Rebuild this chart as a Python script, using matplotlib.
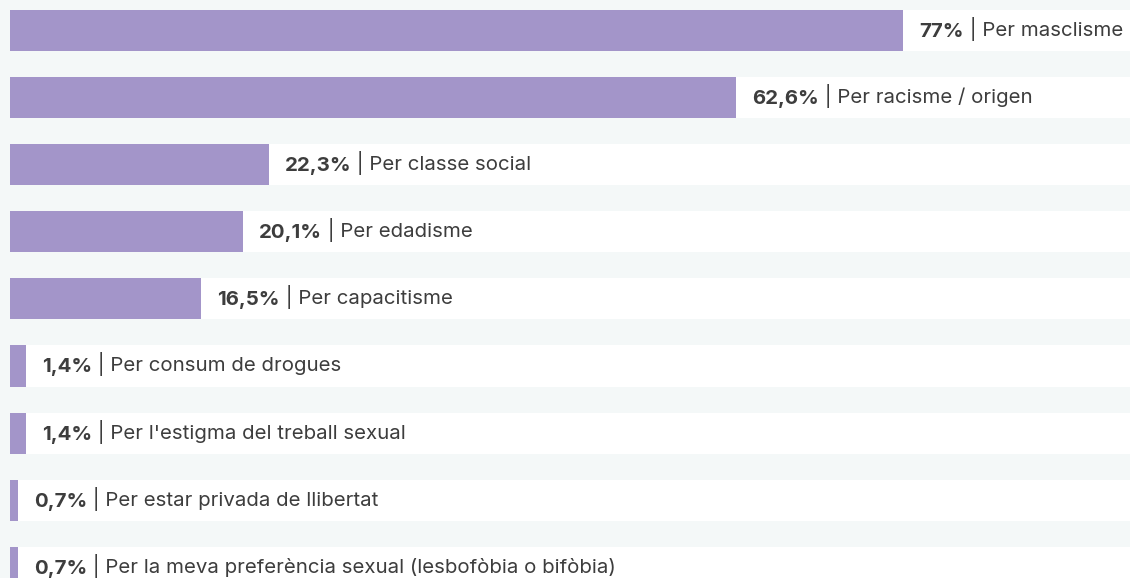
import matplotlib.pyplot as plt

# Dades
categories = [
    "Per masclisme",
    "Per racisme / origen",
    "Per classe social",
    "Per edadisme",
    "Per capacitisme",
    "Per consum de drogues",
    "Per l'estigma del treball sexual",
    "Per estar privada de llibertat",
    "Per la meva preferència sexual (lesbofòbia o bifòbia)",
]
values = [77, 62.6, 22.3, 20.1, 16.5, 1.4, 1.4, 0.7, 0.7]
value_labels = ["77%", "62,6%", "22,3%", "20,1%", "16,5%", "1,4%", "1,4%", "0,7%", "0,7%"]

bg_color = "#f4f8f8"
bar_color = "#a395c9"
text_color = "#3d3d3d"

W, H = 1130, 578
fig = plt.figure(figsize=(W / 100, H / 100), dpi=100, facecolor=bg_color)
# eixos des de x=10px fins a la vora dreta
ax = fig.add_axes([10 / W, 0, 1 - 10 / W, 1])
ax.set_facecolor(bg_color)

px_per_pct = 11.6
xmax = (W - 10) / px_per_pct
pitch = 67.1
first_center = 30.5
ax.set_xlim(0, xmax)
ax.set_ylim((H - first_center) / pitch, -first_center / pitch)
ax.axis("off")

y = list(range(len(values)))
bar_h = 41 / pitch

# franja blanca de fons i barra
ax.barh(y, [xmax] * len(values), height=bar_h, color="white", left=0)
ax.barh(y, values, height=bar_h, color=bar_color)

fs = 14.7
px = 0.72  # punts per píxel a 100 dpi
for i, (v, vl, cat) in enumerate(zip(values, value_labels, categories)):
    t = ax.annotate(vl, xy=(v, i), xytext=(16 * px, -6.5 * px), textcoords="offset points",
                    ha="left", va="baseline", fontsize=fs, fontweight="bold",
                    color=text_color, family="Inter")
    ax.annotate(" | " + cat, xy=(1, 0), xycoords=t, ha="left", va="bottom",
                fontsize=fs, color=text_color, family="Inter")

fig.savefig("out.png", dpi=100, facecolor=bg_color)
